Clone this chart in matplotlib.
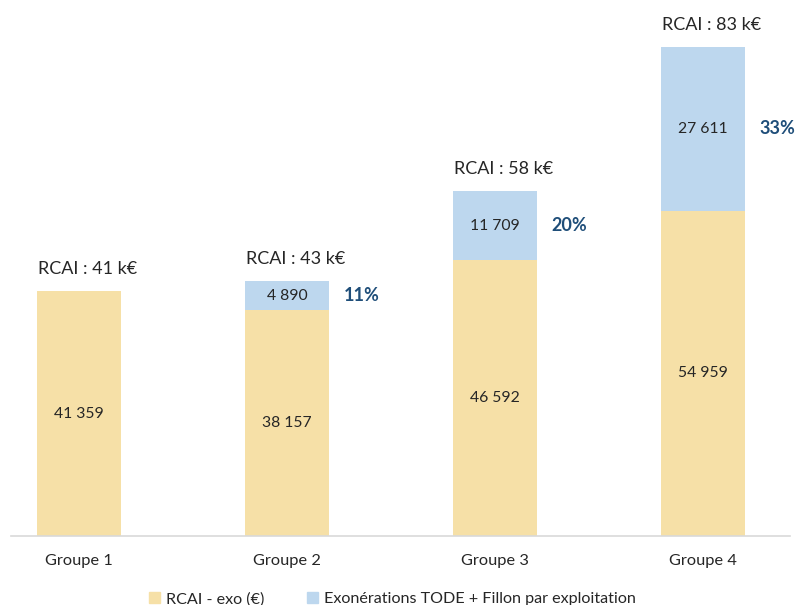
import numpy as np
import matplotlib
matplotlib.use("Agg")
import matplotlib.pyplot as plt
from matplotlib.patches import Patch

plt.rcParams['font.family'] = ['Lato', 'DejaVu Sans']

groups = ["Groupe 1", "Groupe 2", "Groupe 3", "Groupe 4"]
rcai_exo = [41359, 38157, 46592, 54959]
exonerations = [0, 4890, 11709, 27611]
rcai_total_k = [41, 43, 58, 83]

col_rcai = "#F6E0A7"
col_exo = "#BDD7EE"
col_text = "#262626"
col_pct = "#1F4E79"


def fmt(v):
    return f"{v:,}".replace(",", " ")


fig = plt.figure(figsize=(7.97, 6.05), dpi=100)
ax = fig.add_axes([11 / 797, 69 / 605, (790 - 11) / 797, (536 - 8) / 605])

x = np.arange(len(groups))
w = 0.404
base = np.array(rcai_exo)
exo = np.array(exonerations)
ax.bar(x, base, w, color=col_rcai, zorder=2)
ax.bar(x, exo, w, bottom=base, color=col_exo, zorder=2)

for i in range(len(groups)):
    ax.text(x[i], base[i] / 2, fmt(base[i]), ha='center', va='center',
            fontsize=11.3, color=col_text)
    top = base[i] + exo[i]
    if exo[i] > 0:
        ax.text(x[i], base[i] + exo[i] / 2, fmt(exo[i]), ha='center', va='center',
                fontsize=11.3, color=col_text)
        pct = exo[i] / top * 100
        ax.text(x[i] + w / 2 + 0.07, base[i] + exo[i] / 2, f"{pct:.0f}%",
                ha='left', va='center', fontsize=13, color=col_pct, fontweight='bold')
    ax.text(x[i] - w / 2 + 0.005, top + 2400, f"RCAI : {rcai_total_k[i]} k€",
            ha='left', va='bottom', fontsize=13, color=col_text)

ax.set_xlim(-0.327, 3.418)
ax.set_ylim(0, 89200)
ax.set_xticks(x)
ax.set_xticklabels(groups, fontsize=11.8, color=col_text)
ax.tick_params(axis='x', length=0, pad=13)
ax.set_yticks([])
for s in ['top', 'right', 'left']:
    ax.spines[s].set_visible(False)
ax.spines['bottom'].set_color("#D9D9D9")
ax.spines['bottom'].set_linewidth(1.2)

handles = [Patch(color=col_rcai, label="RCAI - exo (€)"),
           Patch(color=col_exo, label="Exonérations TODE + Fillon par exploitation")]
fig.legend(handles=handles, loc='lower center', bbox_to_anchor=(0.4925, -0.026), ncol=2,
           frameon=False, fontsize=11.6, handlelength=0.7, handleheight=0.7,
           handletextpad=0.4, columnspacing=2.6, labelcolor=col_text)

fig.savefig("out.png", dpi=100)
